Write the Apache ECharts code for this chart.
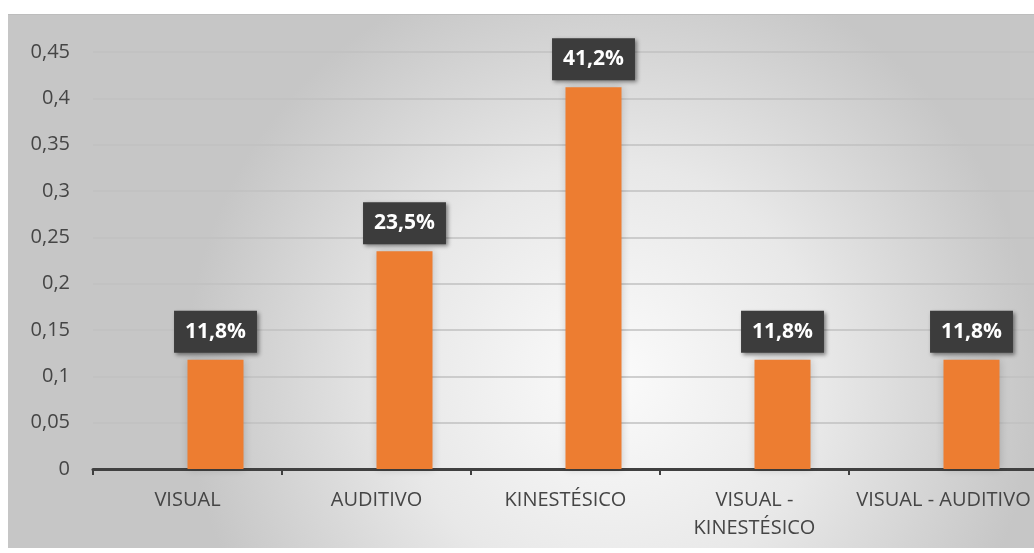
<!DOCTYPE html>
<html>
<head>
<meta charset="utf-8">
<script src="https://cdn.jsdelivr.net/npm/echarts@6/dist/echarts.min.js"></script>
<style>
html,body{margin:0;padding:0;background:#fff;overflow:hidden;width:1034px;height:553px;}
#chart{position:absolute;left:8px;top:14px;width:1040px;height:534px;border-top:1px solid #bdbdbd;box-sizing:border-box;}
</style>
</head>
<body>
<div id="chart"></div>
<script>
const categories = ['VISUAL', 'AUDITIVO', 'KINESTÉSICO', 'VISUAL -\nKINESTÉSICO', 'VISUAL - AUDITIVO'];
const values = [0.118, 0.235, 0.412, 0.118, 0.118];
const yTicks = { min: 0, max: 0.45, interval: 0.05 };

const chart = echarts.init(document.getElementById('chart'));
const fmtAxis = v => String(+v.toFixed(2)).replace('.', ',');
const fmtPct = v => (v * 100).toFixed(1).replace('.', ',') + '%';

chart.setOption({
  backgroundColor: {
    type: 'radial', x: 0.58, y: 0.68, r: 0.8,
    colorStops: [
      { offset: 0, color: '#fbfbfb' },
      { offset: 0.5, color: '#e8e8e8' },
      { offset: 1, color: '#c6c6c6' }
    ]
  },
  animation: false,
  grid: { left: 85, top: 37, width: 945, height: 417 },
  xAxis: {
    type: 'category',
    data: categories,
    axisLine: { lineStyle: { color: '#404040', width: 3 } },
    axisTick: { show: true, length: 6, lineStyle: { color: '#404040', width: 2 } },
    axisLabel: {
      interval: 0, color: '#454545', fontSize: 20, fontFamily: 'Open Sans',
      margin: 17, lineHeight: 28
    }
  },
  yAxis: {
    type: 'value',
    min: yTicks.min, max: yTicks.max, interval: yTicks.interval,
    axisLine: { show: false },
    axisTick: { show: false },
    splitLine: { lineStyle: { color: '#c0c0c0', width: 1.5 } },
    axisLabel: {
      color: '#454545', fontSize: 20, fontFamily: 'Open Sans', margin: 23,
      formatter: fmtAxis
    }
  },
  series: [
    { type: 'bar', data: categories.map(() => null), barWidth: 56, barGap: '0%' },
    {
      type: 'bar',
      data: values,
      barWidth: 56,
      barGap: '0%',
      itemStyle: { color: '#ED7D31', shadowBlur: 8, shadowColor: 'rgba(0,0,0,0.18)' },
      label: {
        show: true, position: 'top', distance: 7,
        formatter: p => fmtPct(p.value),
        color: '#ffffff', fontSize: 21, fontWeight: 'bold', fontFamily: 'Open Sans',
        lineHeight: 26,
        backgroundColor: '#3c3c3c',
        padding: [8, 11, 8, 11],
        shadowBlur: 4, shadowColor: 'rgba(0,0,0,0.45)', shadowOffsetX: 2, shadowOffsetY: 2
      }
    }
  ]
});
</script>
</body>
</html>
